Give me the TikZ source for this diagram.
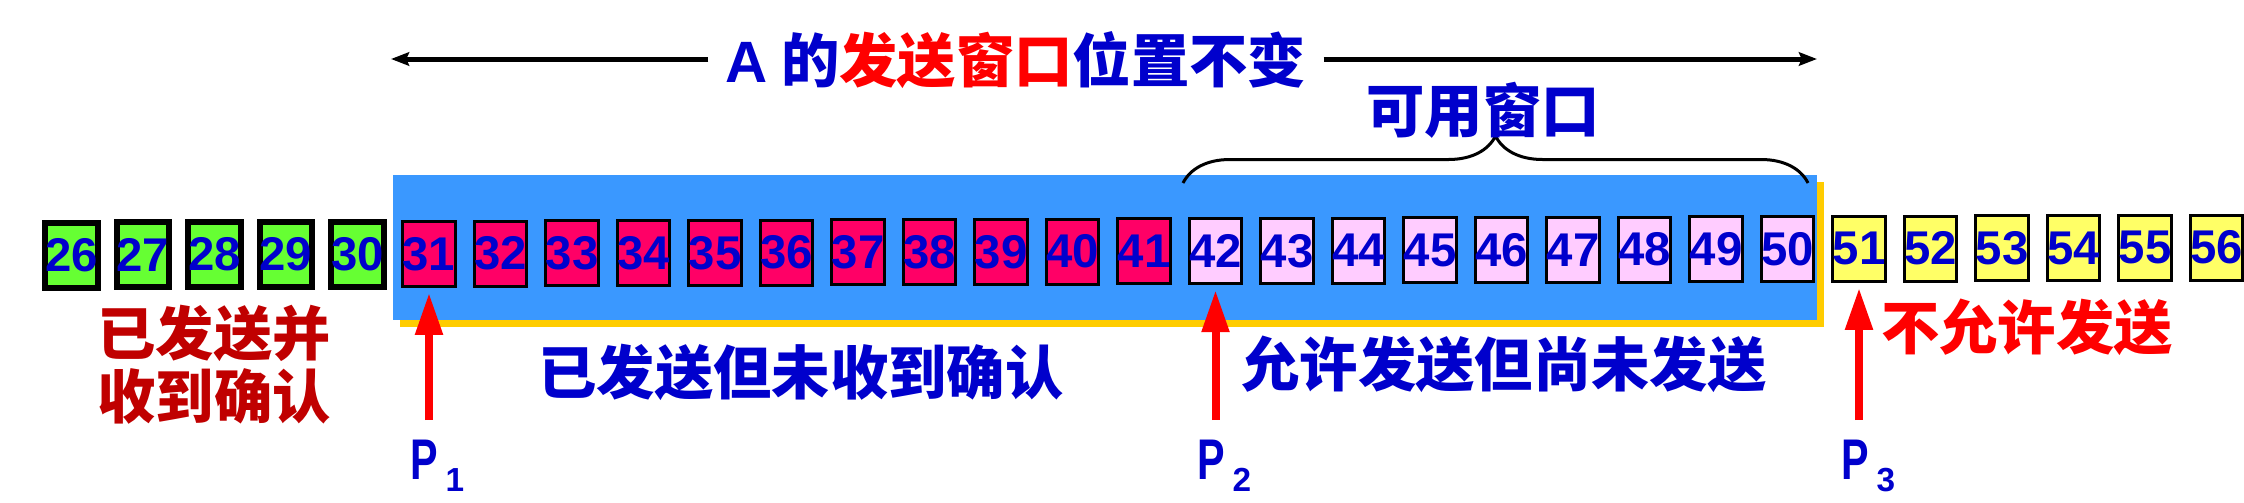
\documentclass[tikz,border=0pt]{standalone}
\usepackage{fontspec}
\setmainfont{Liberation Sans}
\newfontfamily\cjk{Noto Sans CJK SC}
\newfontfamily\narrowsans{Liberation Sans}[FakeStretch=0.72]
\usetikzlibrary{arrows.meta,decorations.pathreplacing}
\definecolor{tblue}{HTML}{0000CC}
\definecolor{tred}{HTML}{FF0000}
\definecolor{dred}{HTML}{C00000}
\definecolor{winblue}{HTML}{3A98FF}
\definecolor{shadowyel}{HTML}{FFCC00}
\definecolor{cgreen}{HTML}{66FF33}
\definecolor{cpink}{HTML}{FF0066}
\definecolor{clight}{HTML}{FFCCFF}
\definecolor{cyel}{HTML}{FFFF66}
\tikzset{
  cell/.style={draw=black, line width=0.9pt, minimum width=15.6pt, minimum height=19.5pt,
    inner sep=0pt, font=\bfseries\fontsize{14.2}{15}\selectfont, text=tblue},
  ackcell/.style={cell, fill=cgreen, line width=1.8pt},
  sentcell/.style={cell, fill=cpink},
  okcell/.style={cell, fill=clight},
  nocell/.style={cell, fill=cyel},
  cjklabel/.style={font=\cjk\bfseries\fontsize{17.5}{18.9}\selectfont, inner sep=0pt},
  plabel/.style={font=\narrowsans\bfseries\fontsize{17.2}{20}\selectfont, text=tblue, inner sep=0pt},
  blackarr/.style={line width=1.5pt, -{Stealth[length=5.4pt,width=4pt,inset=0.8pt]}},
  redarr/.style={draw=tred, line width=2.4pt, -{Triangle[length=12.6pt,width=7.8pt]}, shorten >=1.5pt},
}
\newcommand{\psub}[1]{\hspace{2.2pt}\raisebox{-3.6pt}{\normalfont\bfseries\fontsize{10}{10}\selectfont #1}}
\begin{document}
\begin{tikzpicture}[x=0.3pt,y=-0.3pt]
\useasboundingbox (0,0) rectangle (2244,502);
% window background with shadow
\fill[shadowyel] (400,182) rectangle (1824,327);
\fill[winblue] (393,175) rectangle (1817,320);
% cells
\foreach \n in {26,...,30}
  \node[ackcell] (b\n) at ({71.5*(\n-25)},{255-0.25*(\n-26)}) {\n};
\foreach \n in {31,...,41}
  \node[sentcell] (b\n) at ({71.5*(\n-25)},{255-0.25*(\n-26)}) {\n};
\foreach \n in {42,...,50}
  \node[okcell] (b\n) at ({71.5*(\n-25)},{255-0.25*(\n-26)}) {\n};
\foreach \n in {51,...,56}
  \node[nocell] (b\n) at ({71.5*(\n-25)},{255-0.25*(\n-26)}) {\n};
% title with arrows
\node[cjklabel, text=tblue, inner sep=5pt, font=\cjk\bfseries\fontsize{17.5}{20}\selectfont] (title) at (1016,60)
  {{\rmfamily\bfseries A}\ 的\textcolor{tred}{发送窗口}位置不变};
\coordinate (aL) at (391,59);
\coordinate (aR) at (1817,59);
\draw[blackarr] (title.west |- aL) -- (aL);
\draw[blackarr] (title.east |- aR) -- (aR);
% brace
\coordinate (brL) at (1183,183);
\coordinate (brR) at (1808,183);
\draw[line width=0.9pt, decorate, decoration={brace, amplitude=14.1pt}] (brL) -- (brR);
\node[cjklabel, text=tblue] (avail) at (1483,110) {可用窗口};
% region labels
\node[cjklabel, text=dred, align=center] (acked) at (214,365) {已发送并\\收到确认};
\node[cjklabel, text=tblue] (sent) at (801,372) {已发送但未收到确认};
\node[cjklabel, text=tblue] (allowed) at (1504,364) {允许发送但尚未发送};
\node[cjklabel, text=tred] (notallowed) at (2027,327) {不允许发送};
% pointers
\coordinate (t1) at (429,420);
\coordinate (t2) at (1215.5,420);
\coordinate (t3) at (1859,420);
\draw[redarr] (t1) -- (b31.south);
\draw[redarr] (t2) -- (b42.south);
\draw[redarr] (t3) -- (b51.south);
\node[plabel, anchor=base west] (p1) at (410,479) {P\psub{1}};
\node[plabel, anchor=base west] (p2) at (1197,479) {P\psub{2}};
\node[plabel, anchor=base west] (p3) at (1841,479) {P\psub{3}};
\end{tikzpicture}
\end{document}
